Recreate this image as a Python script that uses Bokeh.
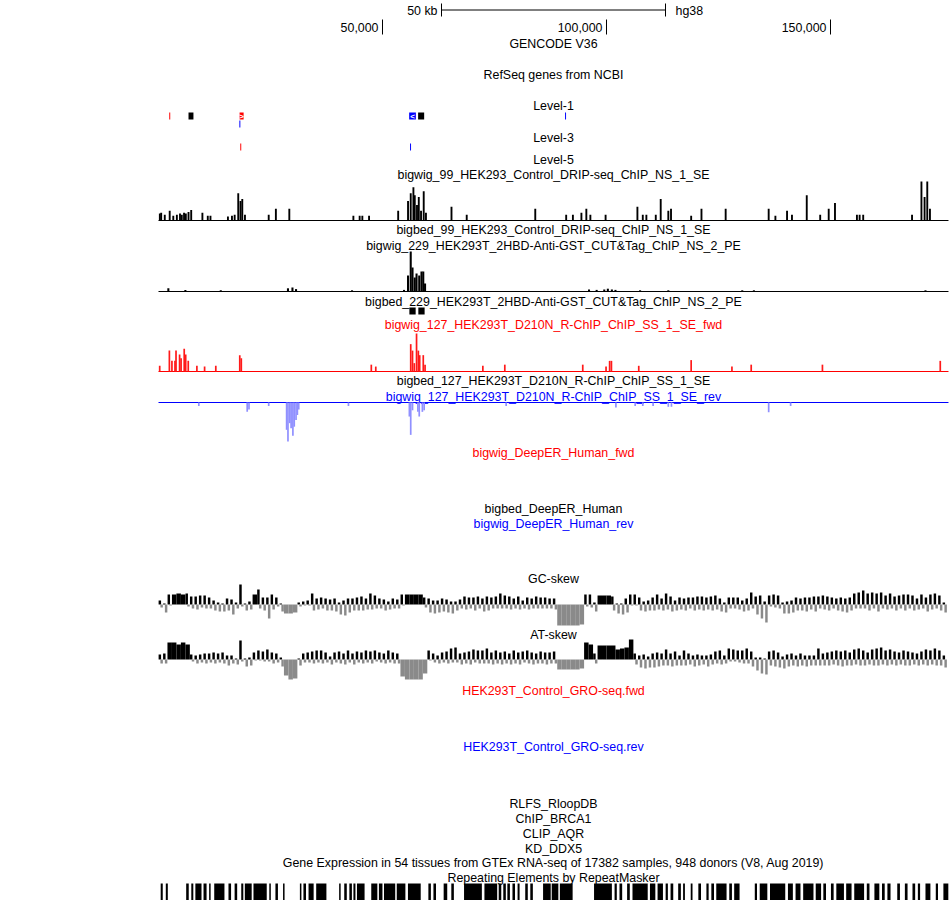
import numpy as np
from bokeh.plotting import figure
from bokeh.models import Range1d
from bokeh.core.properties import value
from bokeh.embed import file_html
from bokeh.resources import INLINE

# ---------------- data (genomic positions in kb) ----------------
region_end_kb = 176.336
ruler_ticks_kb = [50, 100, 150]
ruler_labels = ["50,000", "100,000", "150,000"]
scale_bar_start_kb = 63.17
scale_bar_len_kb = 50
scale_bar_label = "50 kb"
assembly = "hg38"

track_labels = [
    "GENCODE V36", "RefSeq genes from NCBI", "Level-1", "Level-3", "Level-5",
    "bigwig_99_HEK293_Control_DRIP-seq_ChIP_NS_1_SE",
    "bigbed_99_HEK293_Control_DRIP-seq_ChIP_NS_1_SE",
    "bigwig_229_HEK293T_2HBD-Anti-GST_CUT&Tag_ChIP_NS_2_PE",
    "bigbed_229_HEK293T_2HBD-Anti-GST_CUT&Tag_ChIP_NS_2_PE",
    "bigwig_127_HEK293T_D210N_R-ChIP_ChIP_SS_1_SE_fwd",
    "bigbed_127_HEK293T_D210N_R-ChIP_ChIP_SS_1_SE",
    "bigwig_127_HEK293T_D210N_R-ChIP_ChIP_SS_1_SE_rev",
    "bigwig_DeepER_Human_fwd", "bigbed_DeepER_Human", "bigwig_DeepER_Human_rev",
    "GC-skew", "AT-skew",
    "HEK293T_Control_GRO-seq.fwd", "HEK293T_Control_GRO-seq.rev",
    "RLFS_RloopDB", "ChIP_BRCA1", "CLIP_AQR", "KD_DDX5",
    "Gene Expression in 54 tissues from GTEx RNA-seq of 17382 samples, 948 donors (V8, Aug 2019)",
    "Repeating Elements by RepeatMasker",
]
track_strand = ["", "", "", "", "", "", "", "", "", "+", "", "-", "+", "", "-", "", "",
                "+", "-", "", "", "", "", "", ""]

# gene / bed features
feat_start = [2.40, 6.70, 18.10, 55.95, 57.95, 90.75, 18.05, 18.25, 56.15, 56.00, 58.00]
feat_end = [2.62, 7.80, 19.00, 57.45, 59.30, 90.97, 18.27, 18.47, 56.37, 57.40, 59.40]
feat_strand = ["+", ".", "+", "-", ".", "-", "-", "+", "-", ".", "."]
feat_lane = ["level1", "level1", "level1", "level1", "level1", "level1", "level1b",
             "level3", "level3", "bb229", "bb229"]
feat_chevron = [False, False, True, True, False, False, False, False, False, False, False]

# DRIP-seq signal (bigwig_99)
drip_pos = [0.3, 0.6, 1.4, 2.5, 3.3, 4.1, 4.8, 5.2, 5.7, 6.1, 6.7, 7.3, 9.8, 11.0, 11.6, 15.5,
            16.4, 17.0, 17.8, 18.3, 18.7, 19.3, 24.6, 26.2, 29.2, 43.5, 44.9, 45.5, 47.0, 53.5,
            55.7, 56.3, 56.9, 57.2, 57.7, 58.1, 58.6, 59.2, 59.7, 65.4, 68.8, 84.1, 91.0, 92.5,
            94.4, 95.5, 96.4, 99.8, 106.9, 108.1, 108.9, 111.0, 112.1, 113.8, 114.4, 118.9,
            121.2, 126.6, 136.2, 137.7, 140.3, 141.4, 144.7, 147.7, 149.6, 151.0, 155.9, 156.5,
            157.3, 168.2, 170.3, 171.0, 171.6, 172.2]
drip_val = [0.18, 0.2, 0.15, 0.25, 0.12, 0.15, 0.18, 0.15, 0.2, 0.18, 0.22, 0.27, 0.2, 0.12, 0.12,
            0.1, 0.12, 0.15, 0.7, 0.5, 0.55, 0.15, 0.15, 0.3, 0.3, 0.12, 0.12, 0.12, 0.12, 0.25,
            0.5, 0.7, 0.85, 0.65, 0.4, 0.6, 0.25, 0.75, 0.2, 0.35, 0.15, 0.3, 0.15, 0.15, 0.2,
            0.3, 0.15, 0.15, 0.35, 0.15, 0.15, 0.15, 0.55, 0.25, 0.3, 0.12, 0.3, 0.3, 0.3, 0.12,
            0.25, 0.15, 0.65, 0.15, 0.3, 0.45, 0.15, 0.15, 0.15, 0.15, 1.0, 0.6, 1.0, 0.3]

# CUT&Tag signal (bigwig_229)
cut_pos = [2.2, 6.0, 13.9, 28.9, 29.9, 30.7, 43.2, 54.8, 55.7, 56.3, 56.7, 57.2, 57.6, 58.2,
           58.7, 59.1, 59.5, 96.1, 97.8, 99.5, 100.3, 101.2, 102.0, 107.5, 113.8, 130.3, 132.9,
           171.2]
cut_val = [0.08, 0.04, 0.03, 0.08, 0.1, 0.06, 0.03, 0.04, 0.4, 1.0, 0.6, 0.35, 0.45, 0.4, 0.5,
           0.5, 0.2, 0.05, 0.04, 0.05, 0.07, 0.05, 0.04, 0.03, 0.03, 0.03, 0.03, 0.03]

# R-ChIP forward strand (bigwig_127 fwd)
fwd_pos = [0.27, 2.43, 3.0, 3.68, 3.91, 4.71, 5.04, 5.74, 6.07, 6.64, 8.57, 10.29, 12.79, 18.14,
           18.48, 47.5, 48.5, 56.3, 56.7, 57.1, 57.6, 58.0, 58.3, 59.1, 59.5, 72.4, 77.3, 94.7,
           99.9, 100.7, 101.1, 107.2, 118.9, 128.0, 132.3, 148.2, 174.5]
fwd_val = [0.15, 0.55, 0.28, 0.28, 0.55, 0.45, 0.35, 0.6, 0.45, 0.28, 0.15, 0.13, 0.15, 0.43,
           0.35, 0.18, 0.13, 0.72, 0.55, 0.22, 1.0, 0.55, 0.43, 0.43, 0.18, 0.15, 0.18, 0.18,
           0.13, 0.28, 0.28, 0.15, 0.3, 0.13, 0.18, 0.18, 0.28]

# R-ChIP reverse strand (bigwig_127 rev), magnitudes drawn downward
rev_pos = [9.0, 19.8, 20.2, 24.6, 28.6, 28.9, 29.3, 29.6, 30.0, 30.3, 30.7, 31.0, 31.3, 42.4,
           56.0, 56.3, 56.7, 57.9, 58.2, 58.9, 59.3, 77.6, 102.1, 106.4, 108.1, 110.4, 113.8,
           114.5, 136.2, 141.1]
rev_val = [0.09, 0.24, 0.18, 0.09, 0.7, 1.0, 0.53, 0.66, 0.85, 0.62, 0.45, 0.32, 0.18, 0.09,
           0.36, 0.83, 0.2, 0.24, 0.36, 0.24, 0.2, 0.09, 0.13, 0.09, 0.09, 0.09, 0.11, 0.11,
           0.25, 0.09]

# GC / AT skew in 1-kb bins: positive part and negative part (magnitude)
gc_pos = [.2, .05, .5, .5, .55, .5, .55, .4, .4, .45, .45, .35, .2, .1, .05, .3, .25, .1, 1.0, .05,
          .15, .5, .75, .35, .35, .5, .35, .05, 0, 0, 0, .1, .15, .2, .55, .3, .35, .3, .25, .3,
          .1, .2, .3, .3, .35, .4, .3, .55, .45, .3, .25, .15, .3, .25, .5, .5, .5, .5, .5, .35,
          .3, .2, .2, .3, .25, .15, .15, .25, .4, .35, .35, .4, .3, .4, .35, .4, .55, .45, .4, .3,
          .4, .2, .35, .3, .4, .35, .35, .3, .3, 0, 0, 0, 0, 0, 0, .5, .5, .1, .45, .45,
          .45, .4, .05, .05, .3, .5, .5, .35, .15, .2, .35, .5, .3, .55, .4, .2, .35, .3, .35, .35,
          .4, .4, .35, .4, .45, .3, .1, .35, .35, .35, .2, .3, .6, .4, .45, .15, .45, .5, .45, .1,
          .15, .2, .35, .3, .35, .35, .4, .4, .45, .4, .35, .3, .35, .3, .35, .55, .6, .7, .55, .6,
          .55, .6, .45, .55, .4, .45, .5, .5, .45, .3, .5, .35, .5, .55, .45, .1]
gc_neg = [.15, .4, .05, 0, 0, 0, .1, .2, .25, .15, .2, .2, .3, .35, .35, .3, .5, .2, .1, .3,
          .25, 0, .2, .3, .7, .25, .1, .35, .45, .45, .4, .1, .05, .05, .3, .25, .2, .3, .3, .35,
          .5, .55, .4, .3, .3, .3, .25, .25, .2, .2, .3, .25, .2, .2, .05, 0, 0, 0, 0, .15,
          .4, .45, .4, .35, .4, .45, .3, .2, .25, .2, .3, .2, .35, .3, .2, .2, .2, .2, .25, .2,
          .25, .2, .25, .2, .2, .2, .2, .2, .25, 1.05, 1.05, 1.05, 1.05, 1.05, 1.0, .1, .15, .35, 0, 0,
          0, .3, .45, .5, .4, .05, .05, .3, .35, .3, .3, .25, .3, .25, .35, .3, .25, .3, .2, .3,
          .25, .3, .25, .3, .25, .35, .4, .2, .2, .25, .35, .3, .2, .5, .7, .9, .1, .15, .2, .45,
          .45, .4, .3, .3, .35, .25, .35, .2, .25, .3, .2, .3, .35, .4, .3, .2, .2, .2, .3, .2,
          .35, .2, .25, .2, .3, .2, .3, .2, .3, .25, .2, .35, .25, .2, .3, .4]
at_pos = [.25, .3, .85, .85, .75, .85, .75, .25, .2, .25, .3, .3, .35, .3, .35, .2, .2, .05, .95, .05,
          .1, .35, .45, .4, .5, .35, .3, .1, 0, 0, 0, .05, .3, .35, .4, .45, .45, .35, .15, .35,
          .4, .3, .45, .3, .4, .35, .45, .4, .45, .35, .3, .45, .35, .3, 0, 0, 0, 0, 0, 0,
          .45, .3, .2, .35, .4, .55, .6, .3, .35, .4, .5, .45, .45, .55, .35, .45, .35, .4, .3, .45,
          .35, .4, .45, .35, .3, .4, .35, .35, .4, 0, 0, 0, 0, 0, 0, .85, .75, .3, .7, .7,
          .7, .7, .5, .55, .6, 1.0, .3, .2, .25, .15, .3, .35, .3, .5, .3, .4, .2, .45, .3, .2,
          .25, .2, .2, .25, .4, .45, .2, .55, .5, .45, .45, .55, .4, .1, .1, .05, .4, .45, .35, .15,
          .25, .3, .2, .3, .2, .2, .2, .55, .3, .35, .4, .45, .4, .45, .35, .5, .55, .45, .35, .5,
          .55, .6, .45, .5, .4, .35, .45, .4, .35, .3, .4, .5, .45, .55, .45, .2]
at_neg = [.2, .2, 0, 0, 0, 0, 0, .1, .2, .15, .2, .15, .2, .15, .2, .3, .2, .25, .1, .35,
          .3, .05, .05, .1, .1, .2, .15, .35, .8, 1.0, .95, .3, .15, .15, .2, .15, .2, .15, .25, .15,
          .2, .25, .15, .25, .15, .2, .15, .2, .1, .15, .2, .15, .2, .2, .85, 1.0, 1.0, 1.0, 1.0, .7,
          .05, .15, .2, .15, .2, .15, .15, .25, .2, .25, .15, .2, .2, .2, .25, .2, .25, .2, .25, .2,
          .25, .15, .2, .25, .2, .2, .25, .2, .2, .5, .5, .5, .5, .5, .45, 0, 0, .2, 0, 0,
          0, 0, 0, 0, 0, 0, .25, .4, .45, .4, .4, .35, .3, .3, .35, .3, .3, .3, .25, .35,
          .3, .25, .35, .25, .2, .25, .2, .1, .1, .15, .2, .2, .35, .55, .7, .75, .3, .35, .4, .45,
          .35, .3, .35, .3, .35, .3, .3, .3, .3, .3, .25, .3, .35, .3, .3, .25, .3, .3, .25, .3,
          .3, .25, .3, .25, .3, .25, .3, .3, .25, .3, .25, .3, .25, .3, .3, .4]

# RepeatMasker elements
rep_start = [0.49, 1.63, 6.18, 7.32, 8.23, 10.05, 11.3, 12.44, 15.62, 16.99, 18.47, 19.27, 21.2,
             24.73, 26.1, 27.8, 31.56, 32.35, 33.49, 35.2, 40.32, 41.46, 42.6, 43.51, 44.3,
             47.49, 49.2, 50.33, 53.18, 55.68, 60.24, 61.37, 63.65, 65.36, 68.2, 72.75, 75.94,
             76.96, 77.87, 79.01, 80.15, 81.86, 82.99, 85.84, 87.77, 89.59, 97.22, 101.8, 102.9,
             104.6, 105.8, 109.7, 111.4, 113.2, 114.3, 116.0, 117.1, 118.8, 120.5, 122.3, 123.4,
             124.5, 127.4, 128.5, 133.1, 134.2, 136.5, 140.5, 142.2, 143.9, 146.7, 148.4, 150.1,
             151.3, 153.5, 155.3, 158.1, 159.8, 161.5, 162.7, 164.9, 166.6, 168.3, 169.5, 171.2,
             173.5, 175.2]
rep_end = [0.95, 2.08, 6.75, 7.77, 9.6, 10.73, 11.64, 14.72, 16.2, 17.56, 18.93, 20.8, 24.16,
           25.07, 26.66, 28.14, 31.9, 32.92, 34.63, 37.48, 40.66, 42.03, 43.17, 43.96, 46.0,
           48.85, 49.99, 52.84, 55.11, 58.53, 60.8, 61.94, 64.45, 65.93, 72.18, 75.6, 76.51,
           77.53, 78.44, 79.58, 80.6, 82.43, 83.56, 87.55, 89.25, 92.44, 101.2, 102.3, 103.5,
           105.2, 109.2, 110.9, 112.6, 113.7, 114.9, 116.6, 117.5, 119.2, 121.1, 122.8, 124.0,
           126.8, 128.0, 129.7, 133.6, 135.9, 139.9, 141.6, 143.3, 146.2, 147.9, 149.0, 150.7,
           153.0, 154.7, 157.5, 158.7, 160.9, 162.1, 163.4, 165.5, 167.2, 168.9, 170.0, 172.3,
           174.0, 176.3]

# ---------------- layout (reference pixel rows) ----------------
REF_TOP, REF_BOT = 0, 900
label_rows = [43, 74, 105, 137, 159, 174, 229, 245, 301, 324, 380, 396, 452, 508, 523,
              578, 634, 690, 746, 803, 818, 833, 848, 862, 877]
lanes = {"level1": (112, 119), "level1b": (120, 127), "level3": (143, 150), "bb229": (307, 314)}
strand_color = {"+": "#ff0000", "-": "#0000ff", ".": "#000000", "": "#000000"}
FONT = value("Liberation Sans")
FSIZE = value("12.4px")

KB = 1000.0
BP_PER_PX = 50000 / 224.0
ORIGIN_PX = 158.0
p = figure(width=950, height=900,
           x_range=Range1d(-ORIGIN_PX * BP_PER_PX, (950 - ORIGIN_PX) * BP_PER_PX),
           y_range=Range1d(REF_BOT, REF_TOP),
           x_axis_type=None, y_axis_type=None,
           output_backend="svg", toolbar_location=None, min_border=0)
p.grid.visible = False
p.outline_line_color = None
p.background_fill_color = "white"
p.border_fill_color = "white"


def track_range(baseline, px_per_unit):
    return Range1d(start=(baseline - REF_BOT) / px_per_unit,
                   end=(baseline - REF_TOP) / px_per_unit)


p.extra_y_ranges = {
    "drip": track_range(220, 39),
    "cut": track_range(291, 40),
    "fwd": track_range(371, 38),
    "rev": track_range(402, 39),
    "gc": track_range(604, 20),
    "at": track_range(659, 20),
}

x0, x1 = 0.0, region_end_kb * KB
mid = (x0 + x1) / 2

# scale bar
sb0 = scale_bar_start_kb * KB
sb1 = sb0 + scale_bar_len_kb * KB
p.segment(x0=[sb0], y0=[9.5], x1=[sb1], y1=[9.5], line_color="black", line_width=1)
p.segment(x0=[sb0, sb1], y0=[3, 3], x1=[sb0, sb1], y1=[16, 16], line_color="black", line_width=1)
p.text(x=[sb0], y=[10], text=[scale_bar_label], text_align="right", text_baseline="middle",
       x_offset=-4, text_font=FONT, text_font_size=FSIZE, text_color="black")
p.text(x=[sb1], y=[10], text=[assembly], text_align="left", text_baseline="middle",
       x_offset=10, text_font=FONT, text_font_size=FSIZE, text_color="black")

# ruler
rt = [t * KB for t in ruler_ticks_kb]
p.segment(x0=rt, y0=[19] * len(rt), x1=rt, y1=[34] * len(rt), line_color="black", line_width=1)
p.text(x=rt, y=[27] * len(rt), text=ruler_labels, text_align="right", text_baseline="middle",
       x_offset=-4, text_font=FONT, text_font_size=FSIZE, text_color="black")

# track labels
p.text(x=[mid] * len(track_labels), y=label_rows, text=track_labels, text_align="center",
       text_baseline="middle", text_font=FONT, text_font_size=FSIZE,
       text_color=[strand_color[s] for s in track_strand])

# features
fl = [s * KB for s in feat_start]
fr = [e * KB for e in feat_end]
ft = [lanes[l][0] for l in feat_lane]
fb = [lanes[l][1] for l in feat_lane]
fc = [strand_color[s] for s in feat_strand]
p.quad(left=fl, right=fr, top=ft, bottom=fb, fill_color=fc, line_color=None)
chev = [i for i, c in enumerate(feat_chevron) if c]
p.text(x=[(fl[i] + fr[i]) / 2 for i in chev], y=[(ft[i] + fb[i]) / 2 + 0.5 for i in chev],
       text=[">" if feat_strand[i] == "+" else "<" for i in chev],
       text_align="center", text_baseline="middle", text_font=FONT,
       text_font_size=value("8px"), text_font_style="bold", text_color="white")

# signal tracks
def baseline(name, color):
    p.segment(x0=[x0], y0=[0], x1=[x1], y1=[0], line_color=color, line_width=1,
              y_range_name=name)

baseline("drip", "black")
p.vbar(x=[v * KB for v in drip_pos], width=420, top=drip_val, bottom=0,
       fill_color="black", line_color=None, y_range_name="drip")
baseline("cut", "black")
p.vbar(x=[v * KB for v in cut_pos], width=460, top=cut_val, bottom=0,
       fill_color="black", line_color=None, y_range_name="cut")
baseline("fwd", "#ff0000")
p.vbar(x=[v * KB for v in fwd_pos], width=380, top=fwd_val, bottom=0,
       fill_color="#ff1a1a", line_color=None, y_range_name="fwd")
baseline("rev", "#0000ff")
p.vbar(x=[v * KB for v in rev_pos], width=380, top=0, bottom=[-v for v in rev_val],
       fill_color="#9090ff", line_color=None, y_range_name="rev")


def skew(up, dn, name):
    up = np.array(up, dtype=float)
    dn = np.array(dn, dtype=float)
    xc = (np.arange(len(up)) + 0.5) * KB
    mixed = (up > 0) & (dn > 0)
    w = np.where(mixed, 0.55, 1.0) * KB
    p.vbar(x=xc - np.where(mixed, 0.2, 0.0) * KB, width=w, top=up, bottom=0,
           fill_color="black", line_color=None, y_range_name=name)
    p.vbar(x=xc + np.where(mixed, 0.2, 0.0) * KB, width=w, top=0, bottom=-dn,
           fill_color="#8a8a8a", line_color=None, y_range_name=name)

skew(gc_pos, gc_neg, "gc")
skew(at_pos, at_neg, "at")

# repeats
p.quad(left=[s * KB for s in rep_start], right=[e * KB for e in rep_end],
       top=883, bottom=900, fill_color="black", line_color=None)

open("out.html", "w").write(file_html(p, INLINE))
